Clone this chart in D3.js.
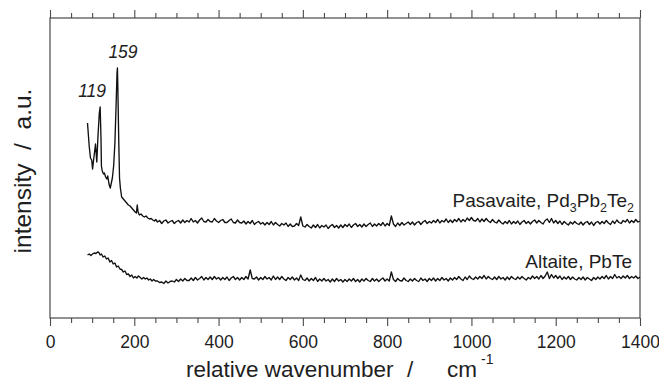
<!DOCTYPE html>
<html>
<head>
<meta charset="utf-8">
<script src="https://cdn.jsdelivr.net/npm/d3@7"></script>
<style>
  html, body { margin: 0; padding: 0; background: #fff; }
  svg { display: block; font-family: "Liberation Sans", Arial, sans-serif; }
</style>
</head>
<body>
<svg id="chart" width="659" height="386"></svg>
<script>
// ---------- data (wavenumber in cm^-1, intensity in arbitrary units) ----------
const xTicksMajor = [0, 200, 400, 600, 800, 1000, 1200, 1400];
const xTicksMinorStep = 50;

// Pasavaite: peak region as [wavenumber, intensity] pairs
const pasavaitePeak = [
  [89,195],[93,172],[96,160],[99,158],[101,149],[104,160],[108,174],[111,156],[114,183],[117,205],[119,211],
  [121,180],[122,152],[124,147],[127,144],[129,145],[132,141],[135,139],[137,142],[140,134],[143,130],
  [145,134],[148,140],[151,152],[154,175],[157,215],[159,245],[160,250],[161,230],[163,180],[165,140],
  [167,130],[170,121],[174,119],[178,117],[182,115],[186,113],[190,112],[194,110],[198,108],[202,106],
  [205,105],[207,113],[209,106],[212,103],[216,104],[220,102],[224,101],[228,102],[232,100],[236,99],
  [240,99.5],[244,98],[248,97],[251,98.5]
];
// Pasavaite: baseline region sampled every 5 cm^-1 starting at 255
const pasavaiteBase = [
  96, 97.5, 94.5, 97, 98, 95, 96.5, 97.5, 94.5, 96.5,
  97.5, 95, 98, 95.5, 97.5, 96, 99.5, 96, 97.5, 95,
  98, 100, 96.5, 96, 98.5, 96.5, 96, 99.5, 97, 95.5,
  97.5, 98.5, 95.5, 95.5, 97.5, 99, 95.5, 95, 98, 95.5,
  95, 97, 94, 96.5, 94.5, 97.5, 93.5, 95.5, 96.5, 94,
  95.5, 93, 95.5, 93.5, 96.5, 93, 95.5, 93.5, 92, 94.5,
  93, 95, 91.5, 94, 91.5, 92, 94.5, 92.5, 101, 92,
  91, 93.5, 91.5, 90, 93, 90.5, 93.5, 90, 92.5, 91,
  93, 89.5, 92, 93.5, 90.5, 92.5, 90, 93, 90.5, 93.5,
  91.5, 94, 90.5, 93, 94.5, 91.5, 93.5, 91, 94, 91.5,
  93.5, 95, 91.5, 94, 92, 94.5, 92.5, 95.5, 92, 94.5,
  92.5, 102, 94, 91.5, 95, 92.5, 95.5, 93, 94.5, 96,
  93.5, 96, 93, 95.5, 96.5, 93.5, 96, 97.5, 94.5, 96.5,
  95, 97.5, 95.5, 98.5, 95, 97.5, 96, 99, 95.5, 98,
  95.5, 98.5, 96.5, 99.5, 96, 98.5, 96.5, 100, 97.5, 100.5,
  97.5, 97, 99.5, 96, 99, 96.5, 99.5, 97, 95.5, 98.5,
  96, 95, 98, 95.5, 94, 96.5, 94.5, 97.5, 94, 96.5,
  94.5, 97, 93.5, 96, 97.5, 94.5, 96.5, 94, 96.5, 98,
  95, 97.5, 95.5, 94, 97.5, 99, 95.5, 99.5, 95, 97.5,
  94.5, 97, 93.5, 96.5, 94.5, 93, 96, 94, 96.5, 94.5,
  93.5, 96, 93, 95.5, 96.5, 93.5, 96, 92.5, 95.5, 96.5,
  94, 96.5, 94.5, 97.5, 95, 93.5, 97, 94.5, 98, 95.5,
  94.5, 97.5, 96, 98.5, 95, 97.5, 95.5, 98.5, 96, 97
];

// Altaite: low-wavenumber region as [wavenumber, intensity] pairs
const altaitePeak = [
  [89,63],[93,64],[97,62.5],[101,64],[105,65],[109,64.5],[113,66],[116,65.5],[119,63],[122,64],
  [126,61],[130,62],[134,59],[138,60],[142,56],[146,57.5],[150,54],[154,55],[158,51],[162,52],
  [166,49],[170,48.5],[174,46],[178,47],[182,43.5],[186,44],[190,41.5],[194,43],[198,40],[202,41.5],
  [206,40],[210,42],[214,40.5],[218,39],[222,40.5],[226,39],[230,40],[234,38],[238,39],[242,37],
  [246,38.5],[250,37]
];
// Altaite: baseline region sampled every 5 cm^-1 starting at 255
const altaiteBase = [
  37, 35.5, 36, 34.5, 37, 35, 36.5, 37, 36, 38.5,
  36.5, 39, 37, 39.5, 37.5, 37.5, 40, 37.5, 40.5, 38,
  39.5, 41.5, 38, 40.5, 38.5, 41, 38.5, 41.5, 39, 40.5,
  38, 40.5, 38.5, 41, 37.5, 40, 41.5, 38.5, 40.5, 38,
  40.5, 38.5, 41.5, 39, 48, 39.5, 39, 41, 38, 40.5,
  38.5, 41.5, 39, 40.5, 38, 42, 38.5, 41, 38.5, 41.5,
  39, 37.5, 40.5, 38.5, 41, 38, 40, 37.5, 43, 38.5,
  37.5, 40, 37, 39.5, 37.5, 40.5, 36.5, 39, 37, 39.5,
  37, 38.5, 36, 39, 36.5, 39.5, 37, 38.5, 36, 38.5,
  36.5, 39, 37, 39.5, 36.5, 38.5, 36, 39, 37, 39.5,
  37.5, 36.5, 39.5, 37, 39, 36.5, 38.5, 40, 37, 39,
  37, 46, 38.5, 36.5, 39.5, 37.5, 37, 40, 37.5, 36.5,
  39, 37, 39.5, 37.5, 36.5, 40, 37.5, 39, 36.5, 39.5,
  37.5, 40, 37, 39.5, 37.5, 40.5, 38, 39.5, 37, 40,
  38, 40.5, 38.5, 41.5, 39, 37.5, 41, 38.5, 42, 39.5,
  38.5, 41, 39, 41.5, 39.5, 42.5, 39, 41.5, 39.5, 38.5,
  41, 38.5, 41.5, 39, 40.5, 38, 41, 38.5, 41.5, 39.5,
  38.5, 41, 39, 41.5, 39.5, 38, 40.5, 39, 42, 39.5,
  41.5, 39, 42.5, 39.5, 42, 46, 39.5, 43.5, 40, 42.5,
  39.5, 42, 38.5, 41, 39, 41.5, 38.5, 41, 39, 38,
  40.5, 38.5, 41, 38, 40.5, 39, 37.5, 40.5, 38.5, 41,
  39, 41.5, 39.5, 42.5, 39, 41.5, 39.5, 43.5, 40, 41.5,
  39.5, 42, 40, 42.5, 39.5, 41.5, 40, 42, 39.5, 41
];
const baseStart = 255, baseStep = 5;

const peakLabels = ["119", "159"];
const peakLabelWn = [119, 159];
const peakLabelHeights = [221, 260];   // intensity level of each label baseline

// ---------- build series ----------
function buildSeries(peak, base) {
  const pts = peak.map(d => ({x: d[0], y: d[1]}));
  base.forEach((v, i) => pts.push({x: baseStart + i * baseStep, y: v}));
  return pts;
}
const pasavaite = buildSeries(pasavaitePeak, pasavaiteBase);
const altaite = buildSeries(altaitePeak, altaiteBase);

// ---------- layout ----------
const svg = d3.select("#chart");
const L = 50, R = 640, T = 18, B = 318;
const x = d3.scaleLinear().domain([0, 1400]).range([L, R]);
const y = d3.scaleLinear().domain([0, 300]).range([B, T]);
const frameColor = "#4a4a4a";
const textColor = "#1e1e1e";

// frame
svg.append("rect").attr("x", L).attr("y", T).attr("width", R - L).attr("height", B - T)
  .attr("fill", "none").attr("stroke", frameColor).attr("stroke-width", 1.2);

const minorTicks = d3.range(0, 1401, xTicksMinorStep).filter(v => !xTicksMajor.includes(v));

// bottom axis
const gBottom = svg.append("g").attr("transform", `translate(0,${B})`)
  .call(d3.axisBottom(x).tickValues(xTicksMajor).tickSize(8).tickPadding(10).tickFormat(d3.format("d")));
gBottom.select(".domain").remove();
gBottom.selectAll(".tick line").attr("stroke", frameColor).attr("stroke-width", 1.1);
gBottom.selectAll(".tick text").attr("font-size", 17.5).attr("fill", textColor)
  .attr("font-family", "'Liberation Sans', Arial, sans-serif");
const gBottomMinor = svg.append("g").attr("transform", `translate(0,${B})`)
  .call(d3.axisBottom(x).tickValues(minorTicks).tickSize(5).tickFormat(""));
gBottomMinor.select(".domain").remove();
gBottomMinor.selectAll(".tick line").attr("stroke", frameColor).attr("stroke-width", 1.1);

// top axis
const gTop = svg.append("g").attr("transform", `translate(0,${T})`)
  .call(d3.axisTop(x).tickValues(xTicksMajor).tickSize(8).tickFormat(""));
gTop.select(".domain").remove();
gTop.selectAll(".tick line").attr("stroke", frameColor).attr("stroke-width", 1.1);
const gTopMinor = svg.append("g").attr("transform", `translate(0,${T})`)
  .call(d3.axisTop(x).tickValues(minorTicks).tickSize(5).tickFormat(""));
gTopMinor.select(".domain").remove();
gTopMinor.selectAll(".tick line").attr("stroke", frameColor).attr("stroke-width", 1.1);

// spectra
const line = d3.line().x(d => x(d.x)).y(d => y(d.y));
[pasavaite, altaite].forEach(s => {
  svg.append("path").datum(s).attr("d", line)
    .attr("fill", "none").attr("stroke", "#111").attr("stroke-width", 1.35)
    .attr("stroke-linejoin", "round");
});

// peak labels
const peakLabelDx = [-8, 6];
peakLabels.forEach((t, i) => {
  svg.append("text").attr("x", x(peakLabelWn[i]) + peakLabelDx[i]).attr("y", y(peakLabelHeights[i]))
    .attr("text-anchor", "middle").attr("font-size", 17.5).attr("font-style", "italic")
    .attr("fill", textColor).text(t);
});

// series labels
const pLab = svg.append("text").attr("x", 634).attr("y", 207).attr("text-anchor", "end")
  .attr("font-size", 19).attr("fill", textColor);
pLab.append("tspan").text("Pasavaite, Pd");
pLab.append("tspan").attr("font-size", 12.5).attr("dy", 5).text("3");
pLab.append("tspan").attr("dy", -5).text("Pb");
pLab.append("tspan").attr("font-size", 12.5).attr("dy", 5).text("2");
pLab.append("tspan").attr("dy", -5).text("Te");
pLab.append("tspan").attr("font-size", 12.5).attr("dy", 5).text("2");

svg.append("text").attr("x", 632).attr("y", 268).attr("text-anchor", "end")
  .attr("font-size", 19).attr("fill", textColor).text("Altaite, PbTe");

// axis titles
const xt = svg.append("text").attr("y", 377).attr("font-size", 22.5).attr("fill", textColor);
xt.append("tspan").attr("x", 186).text("relative wavenumber");
xt.append("tspan").attr("x", 407).text("/");
xt.append("tspan").attr("x", 447).text("cm");
xt.append("tspan").attr("font-size", 14).attr("dy", -13).attr("dx", 4).text("-1");

const yt = svg.append("text").attr("transform", "translate(31,171) rotate(-90)").attr("text-anchor", "middle")
  .attr("font-size", 24.5).attr("fill", textColor).attr("xml:space", "preserve")
  .text("intensity  /  a.u.");
</script>
</body>
</html>
